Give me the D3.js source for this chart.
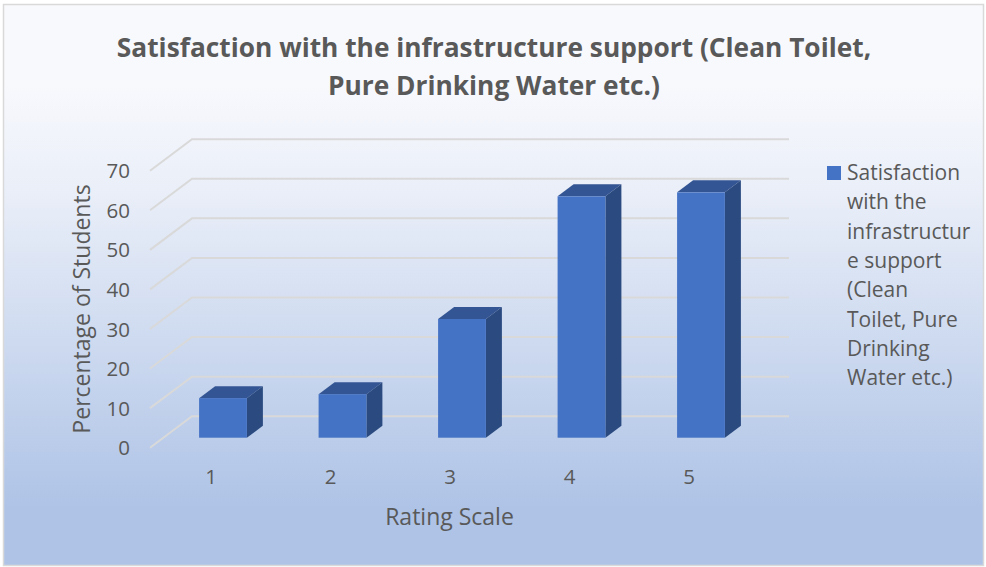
<!DOCTYPE html>
<html>
<head>
<meta charset="utf-8">
<script src="https://cdn.jsdelivr.net/npm/d3@7"></script>
<style>
  html, body { margin: 0; padding: 0; background: #fff; }
  svg { display: block; font-family: "Open Sans", sans-serif; }
  .axis text { fill: #595959; font-size: 20.5px; font-family: "Open Sans", sans-serif; }
  .axis-title { fill: #595959; font-size: 23px; }
  .chart-title { fill: #595959; font-size: 26.3px; font-weight: 700; text-anchor: middle; }
  .legend-text { fill: #595959; font-size: 21px; }
</style>
</head>
<body>
<svg id="chart" width="986" height="567"></svg>
<script>
const ratings = ['1', '2', '3', '4', '5'];
const percentages = [10, 11, 30, 61, 62];
const yTicks = [0, 10, 20, 30, 40, 50, 60, 70];
const titleLines = ['Satisfaction with the infrastructure support (Clean Toilet,', 'Pure Drinking Water etc.)'];
const legendLines = ['Satisfaction', 'with the', 'infrastructur', 'e support', '(Clean', 'Toilet, Pure', 'Drinking', 'Water etc.)'];

const svg = d3.select('#chart');

// Background panel with the vertical gradient
const grad = svg.append('defs').append('linearGradient')
    .attr('id', 'bg').attr('x1', 0).attr('y1', 0).attr('x2', 0).attr('y2', 1);
grad.append('stop').attr('offset', '0.14').attr('stop-color', '#f8f9fd');
grad.append('stop').attr('offset', '0.34').attr('stop-color', '#e9eef8');
grad.append('stop').attr('offset', '0.90').attr('stop-color', '#aec3e6');
grad.append('stop').attr('offset', '1').attr('stop-color', '#aec3e6');

svg.append('rect')
    .attr('x', 3.5).attr('y', 4.5).attr('width', 980).attr('height', 561)
    .attr('fill', 'url(#bg)')
    .attr('stroke', '#d9d9d9').attr('stroke-width', 1.5);

// Scales: y is the front edge of the floor, the back wall sits up and to the right
const y = d3.scaleLinear().domain([0, 70]).range([447.7, 170.7]);
const x = d3.scaleBand().domain(ratings).range([163.25, 760.75]);
const wallDx = 42, wallDy = 31.5;   // depth of the chart box
const depthDx = 16, depthDy = 12;   // depth of a bar
const floorX0 = 150, floorX1 = 747;
const barWidth = x.bandwidth() * 0.4;
const barBase = y(0) - 10;

// Gridlines
const grid = svg.append('g').attr('fill', 'none').attr('stroke', '#d9d9d9').attr('stroke-width', 2);
grid.selectAll('path')
    .data(yTicks)
  .join('path')
    .attr('d', d => `M${floorX0},${y(d)}L${floorX0 + wallDx},${y(d) - wallDy}H${floorX1 + wallDx}`);

// 3D bars: top, side, front
const bars = svg.append('g').selectAll('g')
    .data(percentages)
  .join('g')
    .attr('transform', (d, i) => `translate(${x(ratings[i]) + (x.bandwidth() - barWidth) / 2},0)`);

const barTop = d => barBase - (y(0) - y(d));

bars.append('path')
    .attr('fill', '#335593')
    .attr('d', d => `M0,${barTop(d)}l${depthDx},${-depthDy}h${barWidth}l${-depthDx},${depthDy}z`);
bars.append('path')
    .attr('fill', '#2a4a80')
    .attr('d', d => `M${barWidth},${barTop(d)}l${depthDx},${-depthDy}V${barBase - depthDy}l${-depthDx},${depthDy}z`);
bars.append('rect')
    .attr('fill', '#4472c4')
    .attr('x', 0).attr('width', barWidth)
    .attr('y', d => barTop(d))
    .attr('height', d => barBase - barTop(d));

// Axes
svg.append('g')
    .attr('class', 'axis')
    .attr('transform', 'translate(130,0.5)')
    .call(d3.axisLeft(y).tickValues(yTicks).tickSize(0).tickPadding(0))
    .call(g => g.select('.domain').remove());

svg.append('g')
    .attr('class', 'axis')
    .attr('transform', 'translate(-12,469)')
    .call(d3.axisBottom(x).tickSize(0).tickPadding(0))
    .call(g => g.select('.domain').remove());

// Axis titles
svg.append('text')
    .attr('class', 'axis-title')
    .attr('text-anchor', 'middle')
    .attr('transform', 'translate(90,309) rotate(-90)')
    .text('Percentage of Students');

svg.append('text')
    .attr('class', 'axis-title')
    .attr('text-anchor', 'middle')
    .attr('x', 449.5).attr('y', 525)
    .text('Rating Scale');

// Title
svg.append('g').selectAll('text')
    .data(titleLines)
  .join('text')
    .attr('class', 'chart-title')
    .attr('x', 494)
    .attr('y', (d, i) => 57 + i * 38)
    .text(d => d);

// Legend
svg.append('rect')
    .attr('x', 827).attr('y', 166).attr('width', 14).attr('height', 14)
    .attr('fill', '#4472c4');

svg.append('g').selectAll('text')
    .data(legendLines)
  .join('text')
    .attr('class', 'legend-text')
    .attr('x', 847)
    .attr('y', (d, i) => 180 + i * 29.3)
    .text(d => d);
</script>
</body>
</html>
